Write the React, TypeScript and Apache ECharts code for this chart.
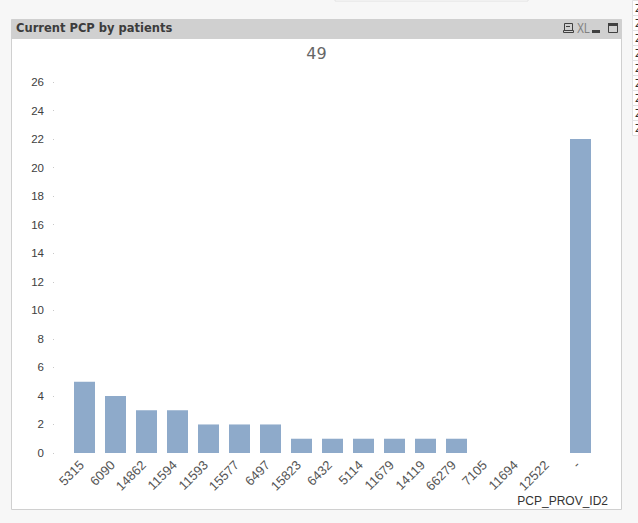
import React, { useEffect, useRef } from "react";
import * as echarts from "echarts";

const categories = ["5315","6090","14862","11594","11593","15577","6497","15823","6432","5114","11679","14119","66279","7105","11694","12522","-"];
const values = [5,4,3,3,2,2,2,1,1,1,1,1,1,0,0,0,22];
const chartTitle = "Current PCP by patients";
const totalLabel = "49";
const axisName = "PCP_PROV_ID2";
const sideRows = [0,1,2,3,4,5,6,7,8];

export default function App() {
  const ref = useRef<HTMLDivElement>(null);
  useEffect(() => {
    document.body.style.margin = "0";
    const chart = echarts.init(ref.current!, undefined, { renderer: "svg" });
    const dark = "#404040";
    const sideCells: any[] = [];
    sideRows.forEach((i) => {
      sideCells.push({ type: "rect", silent: true, z: 1, shape: { x: 632.5, y: 0.5 + i * 15, width: 10, height: 15 }, style: { fill: "#ffffff", stroke: "#e2e2e2", lineWidth: 1 } });
      sideCells.push({ type: "text", silent: true, z: 2, x: 635, y: 3 + i * 15, style: { text: "Z", fill: "#333333", font: "11px 'DejaVu Sans'" } });
    });
    chart.setOption({
      animation: false,
      backgroundColor: "#f7f7f7",
      grid: { left: 69, right: 42, top: 82, bottom: 70, containLabel: false },
      xAxis: {
        type: "category",
        data: categories,
        axisLine: { show: false },
        axisTick: { show: false },
        axisLabel: { rotate: 45, interval: 0, fontFamily: "Liberation Sans", fontSize: 13, color: "#555555", margin: 7, padding: [0, 4, 0, 0] },
        splitLine: { show: false },
      },
      yAxis: {
        type: "value",
        min: 0,
        max: 26,
        interval: 2,
        offset: 15,
        axisLine: { show: false },
        axisTick: { show: true, length: 1, lineStyle: { color: "#c8c8c8" } },
        axisLabel: { fontFamily: "Liberation Sans", fontSize: 11.5, color: "#404040", margin: 10 },
        splitLine: { show: false },
      },
      series: [{
        type: "bar",
        data: values,
        barWidth: 21,
        itemStyle: { color: "#8eaaca" },
        z: 5,
      }],
      graphic: [
        { type: "rect", silent: true, z: -10, shape: { x: 335, y: -1, width: 193, height: 2 }, style: { fill: "#ffffff", stroke: "#e2e2e2" } },
        ...sideCells,
        { type: "rect", silent: true, z: -10, shape: { x: 11.5, y: 19.5, width: 610, height: 490 }, style: { fill: "#ffffff", stroke: "#d0d0d0", lineWidth: 1 } },
        { type: "rect", silent: true, z: -9, shape: { x: 11, y: 19, width: 611, height: 20, r: [2, 2, 0, 0] }, style: { fill: "#d0d0d0" } },
        { type: "text", silent: true, x: 16, y: 22, style: { text: chartTitle, fill: "#3c3c3c", font: "bold 11.5px 'DejaVu Sans'" } },
        { type: "text", silent: true, x: 316.5, y: 53, style: { text: totalLabel, fill: "#666666", font: "16px 'DejaVu Sans'", align: "center", verticalAlign: "middle" } },
        { type: "text", silent: true, x: 608, y: 501, style: { text: axisName, fill: "#333333", font: "12px 'Liberation Sans'", align: "right", verticalAlign: "middle" } },
        // toolbar icons
        { type: "rect", silent: true, shape: { x: 564.5, y: 23.5, width: 8, height: 7 }, style: { fill: "none", stroke: dark, lineWidth: 1 } },
        { type: "rect", silent: true, shape: { x: 563.5, y: 30.5, width: 10, height: 2 }, style: { fill: "none", stroke: dark, lineWidth: 1 } },
        { type: "line", silent: true, shape: { x1: 566, y1: 26.5, x2: 570, y2: 26.5 }, style: { stroke: dark, lineWidth: 1 } },
        { type: "text", silent: true, x: 577, y: 21, scaleX: 0.75, style: { text: "XL", fill: "#808080", font: "14px 'Liberation Sans'" } },
        { type: "rect", silent: true, shape: { x: 592, y: 30, width: 8, height: 3 }, style: { fill: dark } },
        { type: "rect", silent: true, shape: { x: 608.5, y: 23.5, width: 9, height: 9 }, style: { fill: "none", stroke: dark, lineWidth: 1 } },
        { type: "rect", silent: true, shape: { x: 608, y: 23, width: 10, height: 3 }, style: { fill: dark } },
      ],
    });
    return () => chart.dispose();
  }, []);
  return <div ref={ref} style={{ width: 638, height: 523 }} />;
}
